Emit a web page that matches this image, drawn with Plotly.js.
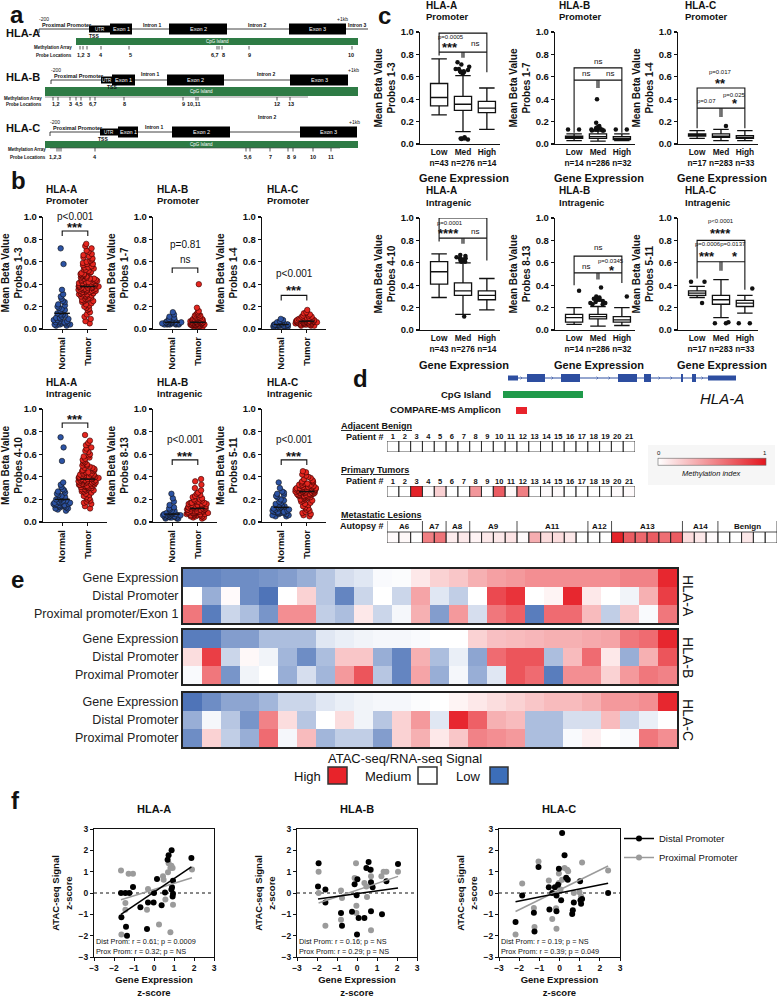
<!DOCTYPE html>
<html>
<head>
<meta charset="utf-8">
<script src="https://cdn.plot.ly/plotly-3.0.1.min.js"></script>
<style>html,body{margin:0;padding:0;background:#fff}#fig{width:778px;height:1000px}</style>
</head>
<body>
<div id="fig"></div>
<script>
// ================= DATA =================
// ---- Panel a: gene schematics (diagram units) ----
const aGeneNames=['HLA-A','HLA-B','HLA-C'];
const aRowY=[29,80,132];
const aNameY=[33,77,128];
const aPromStart=[39,51,50];
const aLineEnd=[368,348,357];
const aUTR=[[89,110],[101,112],[100,118]];
const aExons=[[[110,132],[169,227],[289,346]],[[112,135],[167,224],[290,348]],[[118,138],[172,230],[300,357]]];
const aIntronText=[['Intron 1','Intron 2','Intron 3'],['Intron 1','Intron 2'],['Intron 1','Intron 2']];
const aIntronX=[[152,257,357],[150,266],[154,267]];
const aIntronY=[[25,25,25],[74,74],[127,117]];
const aTSSX=[94,112,103];
const aPlusX=[342,353,354];
const aCpG=[[76,358],[45,358],[45,358]];
const aCpGY=[[38,45],[87,96],[141,148]];
const aProbeX=[[80,83,87,101,129,217,219,222,249,352],[53,58,70,76,81,90,95,124,183,196,198,277,290],[57,59,61,95,246,250,270,288,293,313,331]];
const aProbeText=[['1,2','3','4','5','6,7','8','9','10'],['1,2','3','4,5','6,7','8','9','10,11','12','13'],['1,2,3','4','5,6','7','8','9','10','11']];
const aProbeTextX=[[81,88,101,130,215,223,249,351],[56,70,79,93,124,183,193,277,291],[55,95,248,270,288,294,313,331]];
const aProbeTickY=[46,97,148];
const aProbeLabelY=[55,104,157];
const aProbeLine=[null,[45,308],[50,340]];
const aProbeTitleX=[73,43,47];

// ---- Panel b: mean beta values ----
const bCats=['Normal','Tumor'];
const bNormA_P=[0.72,0.58,0.35,0.31,0.29,0.27,0.25,0.24,0.22,0.21,0.20,0.19,0.18,0.17,0.16,0.15,0.14,0.13,0.13,0.12,0.11,0.10,0.10,0.09,0.09,0.08,0.08,0.07,0.07,0.06,0.06,0.06,0.05,0.05,0.05,0.04,0.04,0.04,0.03,0.03];
const bTumA_P=[0.76,0.74,0.72,0.70,0.69,0.67,0.66,0.65,0.64,0.63,0.62,0.61,0.60,0.59,0.58,0.58,0.57,0.56,0.55,0.55,0.54,0.53,0.53,0.52,0.51,0.51,0.50,0.50,0.49,0.49,0.48,0.48,0.47,0.47,0.46,0.46,0.45,0.45,0.45,0.44,0.44,0.43,0.43,0.43,0.42,0.42,0.42,0.41,0.41,0.41,0.40,0.40,0.40,0.40,0.39,0.39,0.39,0.39,0.38,0.38,0.38,0.38,0.37,0.37,0.37,0.37,0.36,0.36,0.36,0.36,0.35,0.35,0.35,0.35,0.34,0.34,0.34,0.34,0.33,0.33,0.33,0.32,0.32,0.32,0.31,0.31,0.31,0.30,0.30,0.30,0.29,0.29,0.28,0.28,0.27,0.27,0.26,0.26,0.25,0.25,0.24,0.23,0.22,0.21,0.20,0.19,0.18,0.17,0.15,0.13,0.11,0.09,0.07,0.05];
const bNormB_P=[0.15,0.13,0.11,0.10,0.09,0.09,0.08,0.08,0.08,0.07,0.07,0.07,0.07,0.06,0.06,0.06,0.06,0.06,0.06,0.06,0.05,0.05,0.05,0.05,0.05,0.05,0.05,0.05,0.05,0.04,0.04,0.04,0.04,0.04];
const bTumB_P=[0.40,0.19,0.16,0.15,0.14,0.13,0.13,0.12,0.12,0.11,0.11,0.10,0.10,0.10,0.09,0.09,0.09,0.09,0.08,0.08,0.08,0.08,0.08,0.08,0.07,0.07,0.07,0.07,0.07,0.07,0.07,0.07,0.06,0.06,0.06,0.06,0.06,0.06,0.06,0.06,0.06,0.06,0.05,0.05,0.05,0.05,0.05,0.05,0.05,0.05,0.05,0.05,0.05,0.05,0.04,0.04,0.04,0.04,0.04,0.04,0.04,0.04,0.04,0.04,0.03,0.03,0.03,0.03,0.03,0.03,0.02,0.02,0.02];
const bNormC_P=[0.09,0.08,0.07,0.07,0.06,0.06,0.05,0.05,0.05,0.05,0.04,0.04,0.04,0.04,0.04,0.04,0.04,0.03,0.03,0.03,0.03,0.03,0.03,0.03,0.02,0.02,0.02,0.02];
const bTumC_P=[0.17,0.15,0.14,0.13,0.12,0.12,0.11,0.11,0.10,0.10,0.10,0.10,0.09,0.09,0.09,0.09,0.09,0.09,0.08,0.08,0.08,0.08,0.08,0.08,0.08,0.08,0.07,0.07,0.07,0.07,0.07,0.07,0.07,0.07,0.07,0.07,0.06,0.06,0.06,0.06,0.06,0.06,0.06,0.06,0.06,0.05,0.05,0.05,0.05,0.05,0.05,0.05,0.04,0.04,0.04,0.04,0.04,0.03,0.03,0.03];
const bNormA_I=[0.75,0.66,0.54,0.35,0.33,0.31,0.29,0.28,0.27,0.26,0.25,0.24,0.23,0.22,0.21,0.21,0.20,0.20,0.19,0.19,0.18,0.18,0.17,0.17,0.17,0.16,0.16,0.16,0.15,0.15,0.15,0.14,0.14,0.14,0.13,0.13,0.12,0.12,0.11,0.10];
const bTumA_I=[0.77,0.72,0.70,0.68,0.66,0.65,0.63,0.62,0.60,0.59,0.58,0.57,0.56,0.55,0.54,0.53,0.52,0.51,0.50,0.50,0.49,0.48,0.48,0.47,0.46,0.46,0.45,0.45,0.44,0.44,0.43,0.43,0.42,0.42,0.42,0.41,0.41,0.41,0.40,0.40,0.40,0.40,0.39,0.39,0.39,0.39,0.38,0.38,0.38,0.38,0.37,0.37,0.37,0.37,0.36,0.36,0.36,0.36,0.35,0.35,0.35,0.35,0.34,0.34,0.34,0.34,0.33,0.33,0.33,0.33,0.32,0.32,0.32,0.31,0.31,0.31,0.30,0.30,0.30,0.29,0.29,0.28,0.28,0.27,0.27,0.26,0.25,0.24,0.23,0.22,0.21,0.20,0.19,0.18,0.17,0.16,0.14,0.12];
const bNormB_I=[0.25,0.21,0.18,0.15,0.13,0.12,0.11,0.10,0.10,0.09,0.09,0.08,0.08,0.08,0.07,0.07,0.07,0.07,0.06,0.06,0.06,0.06,0.06,0.05,0.05,0.05,0.05,0.05,0.04,0.04,0.04,0.04,0.03,0.03,0.03];
const bTumB_I=[0.38,0.36,0.33,0.30,0.28,0.26,0.25,0.24,0.23,0.22,0.21,0.20,0.20,0.19,0.19,0.18,0.18,0.17,0.17,0.17,0.16,0.16,0.16,0.15,0.15,0.15,0.15,0.14,0.14,0.14,0.14,0.13,0.13,0.13,0.13,0.13,0.12,0.12,0.12,0.12,0.12,0.11,0.11,0.11,0.11,0.11,0.10,0.10,0.10,0.10,0.10,0.09,0.09,0.09,0.09,0.09,0.08,0.08,0.08,0.08,0.08,0.07,0.07,0.07,0.07,0.06,0.06,0.06,0.06,0.05,0.05,0.05,0.04,0.04,0.03];
const bNormC_I=[0.35,0.30,0.27,0.26,0.25,0.24,0.23,0.22,0.20,0.19,0.18,0.17,0.16,0.15,0.14,0.14,0.13,0.13,0.12,0.12,0.11,0.11,0.10,0.10,0.09,0.09,0.09,0.08,0.08,0.08,0.07,0.07,0.06,0.06,0.05,0.05];
const bTumC_I=[0.45,0.44,0.42,0.41,0.40,0.39,0.38,0.37,0.36,0.36,0.35,0.35,0.34,0.34,0.33,0.33,0.33,0.32,0.32,0.32,0.31,0.31,0.31,0.31,0.30,0.30,0.30,0.30,0.29,0.29,0.29,0.29,0.29,0.28,0.28,0.28,0.28,0.28,0.27,0.27,0.27,0.27,0.27,0.26,0.26,0.26,0.26,0.26,0.25,0.25,0.25,0.25,0.24,0.24,0.24,0.24,0.23,0.23,0.23,0.22,0.22,0.22,0.21,0.21,0.20,0.20,0.19,0.19,0.18,0.17,0.16,0.15,0.14,0.13,0.12,0.11,0.10,0.09,0.08,0.07,0.06,0.05];
const bNormMeans=[0.14,0.06,0.04,0.20,0.07,0.13];
const bTumMeans=[0.38,0.06,0.07,0.38,0.12,0.27];
const bPvals=['p<0.001','p=0.81','p<0.001','p<0.001','p<0.001','p<0.001'];
const bStars=['***','ns','***','***','***','***'];
const bGenes=['HLA-A','HLA-B','HLA-C','HLA-A','HLA-B','HLA-C'];
const bRegions=['Promoter','Promoter','Promoter','Intragenic','Intragenic','Intragenic'];
const bProbes=['Probes 1-3','Probes 1-7','Probes 1-4','Probes 4-10','Probes 8-13','Probes 5-11'];

// ---- Panel c: box statistics [lowerfence, q1, median, q3, upperfence] for Low/Med/High ----
const cCats=['Low','Med','High'];
const cN_A=['n=43','n=276','n=14'];
const cN_B=['n=14','n=286','n=32'];
const cN_C=['n=17','n=283','n=33'];
const cStatsAP=[[0.26,0.11,0.13],[0.34,0.30,0.28],[0.415,0.355,0.32],[0.54,0.425,0.38],[0.76,0.61,0.50]];
const cStatsBP=[[0.03,0.025,0.03],[0.05,0.05,0.04],[0.06,0.065,0.05],[0.07,0.09,0.065],[0.09,0.115,0.09]];
const cStatsCP=[[0.05,0.03,0.03],[0.07,0.06,0.05],[0.08,0.07,0.06],[0.09,0.09,0.075],[0.12,0.13,0.12]];
const cStatsAI=[[0.29,0.14,0.18],[0.41,0.31,0.27],[0.52,0.35,0.31],[0.61,0.42,0.35],[0.68,0.60,0.46]];
const cStatsBI=[[0.05,0.035,0.04],[0.07,0.10,0.07],[0.11,0.12,0.09],[0.14,0.14,0.12],[0.20,0.21,0.20]];
const cStatsCI=[[0.29,0.11,0.15],[0.31,0.23,0.21],[0.33,0.27,0.24],[0.35,0.31,0.265],[0.39,0.45,0.31]];
const cOutAP=[[],[0.73,0.71,0.69,0.67,0.67,0.66,0.65,0.65,0.64,0.64,0.64,0.63,0.06,0.05,0.05,0.045,0.04,0.05],[]];
const cOutBP=[[0.13,0.13],[0.40,0.19,0.16,0.15,0.15,0.14,0.14,0.13,0.13,0.13,0.12,0.12,0.12,0.14,0.13],[0.13,0.13]];
const cOutCP=[[],[0.16],[]];
const cOutAI=[[],[0.67,0.66,0.65,0.64,0.64,0.63,0.62,0.62,0.61,0.61,0.63,0.12],[]];
const cOutBI=[[0.35],[0.38,0.30,0.29,0.28,0.28,0.27,0.27,0.26,0.25,0.24,0.24,0.23,0.23],[0.30]];
const cOutCI=[[0.43,0.43,0.24],[0.06,0.07,0.06],[0.37,0.06,0.06]];

// ---- Panel d: methylation index ----
const dExons=[[508,518],[527,545],[561,580],[618,637],[644,651],[681,683],[692,696],[708,736]];
const dExonHalfH=[2.5,4,4,4,4,4,4,2.5];
const dChevrons=[522,553,598,610,660,672,703];
const dCpG=[503,583];
const dAmplicon=[516,527];
const dPatients=['1','2','3','4','5','6','7','8','9','10','11','12','13','14','15','16','17','18','19','20','21'];
const dBenign=[0,0,0,0,0,0,0,0,0,0,0,0,0,0,0,0,0,0,0,0,0];
const dPrimary=[0,0,0.95,0.02,0.2,0,0,0.45,0,0.7,0.03,0.55,0,0.02,0.02,0,0,0,0,0.02,0.02];
const dMetGroups=['A6','A7','A8','A9','A11','A12','A13','A14','Benign'];
const dMetSizes=[3,2,2,4,6,2,6,3,5];
const dMetastatic=[0.02,0.03,0, 0.55,0.6, 0.08,0.1, 0.05,0.1,0.1,0.12, 0.02,0.35,0.15,0.15,0.1,0, 0,0, 0.95,0.7,0.65,0.7,0.62,0.7, 0.15,0.1,0.02, 0,0,0.1,0,0];

// ---- Panel e: ATAC-seq / RNA-seq signal ----
const eA_GE=[-0.75,-0.75,-0.7,-0.7,-0.65,-0.6,-0.5,-0.35,-0.2,-0.15,-0.03,-0.02,0.1,0.2,0.25,0.35,0.42,0.45,0.5,0.5,0.5,0.5,0.5,0.55,0.55,0.95];
const eA_DP=[0,-0.5,0.02,-0.7,-0.85,0,0.2,-0.35,-0.75,-0.25,0,-0.25,0.4,-0.15,-0.3,0,0.8,0.9,0,0.05,0.95,0.1,0,-0.07,0.35,0.85];
const eA_PP=[0.6,-0.8,-0.25,-0.4,-0.65,0.5,0.5,-0.3,-0.4,0.1,-0.25,-0.05,0.35,-0.6,0.45,-0.2,0.6,0.7,-0.8,0.65,0.65,0.3,-0.3,0.25,-0.03,0.6];
const eB_GE=[-0.8,-0.8,-0.6,-0.6,-0.4,-0.4,-0.4,-0.15,-0.1,-0.07,-0.05,-0.05,-0.03,0,0,0.2,0.28,0.3,0.32,0.35,0.35,0.38,0.4,0.6,0.65,0.95];
const eB_DP=[0.15,0.85,-0.25,0.03,-0.07,-0.45,-0.7,-0.4,0.25,0.25,-0.5,-0.75,0.35,-0.4,-0.1,-0.55,0.65,0.75,0.75,-0.4,0.3,0.65,0.1,-0.5,0.35,0.75];
const eB_PP=[-0.03,0.6,-0.65,-0.07,0,-0.5,-0.2,-0.45,0.45,0.75,-0.35,-0.75,0.4,-0.5,-0.05,-0.5,-0.15,0.75,0.65,-0.8,0.5,0.5,0.2,0.45,0.6,0.55];
const eC_GE=[-0.85,-0.7,-0.55,-0.55,-0.45,-0.25,-0.25,-0.15,-0.1,-0.07,-0.05,-0.05,-0.02,0,0.05,0.1,0.15,0.2,0.25,0.3,0.3,0.35,0.45,0.45,0.5,0.95];
const eC_DP=[-0.5,-0.05,-0.35,-0.65,0.55,0.15,-0.35,0,0.15,-0.07,-0.35,0.2,0.45,-0.15,0.95,0.7,0.35,0.3,-0.4,-0.4,-0.2,-0.2,0.3,-0.25,-0.1,0];
const eC_PP=[-0.7,0.2,-0.3,-0.5,0.65,-0.05,0.3,-0.45,-0.3,-0.3,-0.6,0.2,0.35,0.1,0.25,0.55,0.5,0.45,-0.4,-0.4,-0.03,0.07,0,-0.03,0.6,0.5];
const eGenes=['HLA-A','HLA-B','HLA-C'];
const eRowLabelsA=['Gene Expression','Distal Promoter','Proximal promoter/Exon 1'];
const eRowLabelsBC=['Gene Expression','Distal Promoter','Proximal Promoter'];

// ---- Panel f: z-scores ----
const fA_distX=[-1.65,-1.43,-1.23,-1.05,-1.63,-1.40,-1.35,-0.68,-0.35,-0.30,-0.02,0.0,0.15,0.38,0.55,0.68,0.73,0.88,0.95,0.90,0.87,0.95,0.93,1.87];
const fA_distY=[0,0,0,0.28,-1.14,-1.58,-2.0,-0.67,-1.69,-0.45,-0.45,0,0.66,-0.58,0.02,1.56,1.77,2.0,0.58,0.27,0.16,-0.03,-0.16,1.64];
const fA_proxX=[-1.65,-1.27,-1.05,-1.43,-1.43,-1.63,-0.35,-0.30,0.25,0.45,0.48,0.57,0.70,0.73,0.82,0.87,0.93,0.82,0.95,1.90];
const fA_proxY=[1.06,0.9,0.9,-0.47,-0.78,-1.95,-0.78,0.19,-1.48,0.78,0.62,-0.31,0.97,1.4,1.17,1.28,1.17,-1.84,-0.55,1.1];
const fB_distX=[-1.92,-1.95,-1.58,-1.58,-0.80,-0.75,-0.25,-0.12,0.0,0.08,0.37,0.47,0.58,0.67,0.70,0.78,0.70,1.25,1.47,2.05,0.02,-0.02];
const fB_distY=[1.4,0.31,0.16,-0.44,-0.94,-1.53,-0.88,0.41,-1.95,-1.17,-1.17,1.17,1.45,1.09,0.5,0.27,-0.86,-1.0,0.55,1.36,0.65,-0.1];
const fB_proxX=[-1.92,-1.92,-1.58,-0.80,-0.75,-0.80,-0.05,-0.12,-0.03,-0.03,0.47,0.50,0.70,0.70,0.70,1.33,1.22,1.47,2.05,0.37];
const fB_proxY=[1.0,0,-1.53,0.12,-0.23,-1.25,1.4,0.7,-0.6,-0.94,0.31,-0.19,1.09,0.78,-1.75,1.0,0.78,1.0,1.0,0.47];
const fC_distX=[-2.18,-1.85,-1.27,-1.24,-1.04,-0.53,-0.50,-0.36,-0.23,-0.15,-0.15,-0.07,-0.03,0.08,0.13,0.25,0.33,0.41,0.63,0.66,0.71,1.02,1.04,1.12,1.07,2.41];
const fC_distY=[-1.36,-0.12,-0.92,-1.81,1.22,0.27,-0.77,0,0.27,-0.12,-0.86,0.39,1.14,-0.34,2.81,1.77,0.72,0.62,-0.98,-0.81,-0.44,0.55,-0.34,-0.28,-0.5,0];
const fC_proxX=[-2.18,-1.85,-1.27,-1.24,-1.04,-0.53,-0.36,-0.15,-0.03,-0.03,0.13,0.25,0.38,0.43,0.71,0.99,1.07,1.12,2.41,-0.17,0.05];
const fC_proxY=[-1.95,0.44,-0.7,-1.59,1.48,0.59,-1.22,-1.67,0.91,0.47,0.62,1.17,1.09,1.02,0,0.03,-0.16,1.43,1.06,-0.72,0.16];
const fStats=[['Dist Prom: r = 0.61; p = 0.0009','Prox Prom: r = 0.32; p = NS'],['Dist Prom: r = 0.16; p = NS','Prox Prom: r = 0.29; p = NS'],['Dist Prom: r = 0.19; p = NS','Prox Prom: r = 0.39; p = 0.049']];

// ================= BUILD =================
const W=778,H=1000;
const X=p=>p/W, Y=p=>1-p/H;
const FONT='"Liberation Sans", Arial, Helvetica, sans-serif';
const INK='#111';
const traces=[],shapes=[],annotations=[];
const layout={width:W,height:H,margin:{l:0,r:0,t:0,b:0,pad:0},paper_bgcolor:'#fff',plot_bgcolor:'rgba(0,0,0,0)',
  font:{family:FONT,color:INK},showlegend:true,hovermode:false,
  xaxis:{domain:[0,1],range:[0,W],visible:false,fixedrange:true},
  yaxis:{domain:[0,1],range:[H,0],visible:false,fixedrange:true},
  legend:{x:X(619),y:Y(824),xanchor:'left',yanchor:'top',font:{size:9.5,family:FONT,color:INK},bgcolor:'rgba(0,0,0,0)',itemwidth:30,tracegroupgap:0}
};
traces.push({type:'scatter',x:[-100],y:[-100],mode:'markers',showlegend:false,hoverinfo:'skip',xaxis:'x',yaxis:'y'});

function txt(text,x,y,size,o){o=o||{};annotations.push({xref:o.xref||'x',yref:o.yref||'y',x:x,y:y,text:text,showarrow:false,
  xanchor:o.xanchor||'center',yanchor:o.yanchor||'middle',textangle:o.angle||0,borderpad:0,
  font:{family:FONT,size:size,color:o.color||INK,weight:o.bold?'bold':'normal',style:o.italic?'italic':'normal',lineposition:o.under?'under':'none'}});}
function rect(x0,x1,y0,y1,fill,o){o=o||{};shapes.push({type:'rect',xref:o.xref||'x',yref:o.yref||'y',x0:x0,x1:x1,y0:y0,y1:y1,fillcolor:fill,line:{color:o.lc||'rgba(0,0,0,0)',width:o.lw||0},layer:o.layer||'above'});}
function seg(x0,y0,x1,y1,o){o=o||{};shapes.push({type:'line',xref:o.xref||'x',yref:o.yref||'y',x0:x0,y0:y0,x1:x1,y1:y1,line:{color:o.color||INK,width:o.w||1,dash:o.dash||'solid'}});}
function pth(p,xr,yr,w,col){shapes.push({type:'path',path:p,xref:xr,yref:yr,line:{color:col||INK,width:w||1.1}});}

// panel letters
[['a',17,14],['b',18,180],['c',384,15],['d',360,378],['e',17,579],['f',15,800]].forEach(l=>txt(l[0],l[1],l[2],24,{bold:true}));

// ---------- Panel a ----------
for(let g=0;g<3;g++){
  const r=aRowY[g];
  txt(aGeneNames[g],5,aNameY[g],11,{bold:true,xanchor:'left'});
  seg(aPromStart[g],r,aLineEnd[g],r,{w:0.8});
  seg(aPromStart[g],r,aPromStart[g],r+4,{w:0.8});
  txt('-200',aPromStart[g]-1,r-10,5,{xanchor:'left'});
  txt('+1kb',aPlusX[g],r-10,5);
  txt('Proximal Promoter',aPromStart[g]+2,r-4.5,5.5,{xanchor:'left',bold:true});
  rect(aUTR[g][0],aUTR[g][1],r-3.5,r+3.5,'#000');
  txt('UTR',(aUTR[g][0]+aUTR[g][1])/2,r,4.5,{color:'#fff'});
  txt('TSS',aTSSX[g],r+6.5,5,{bold:true});
  aExons[g].forEach((e,k)=>{rect(e[0],e[1],r-5.5,r+5.5,'#000');txt('Exon '+(k+1),(e[0]+e[1])/2,r,5.5,{color:'#fff'});});
  aIntronText[g].forEach((t,k)=>txt(t,aIntronX[g][k],aIntronY[g][k],5,{bold:true}));
  rect(aCpG[g][0],aCpG[g][1],aCpGY[g][0],aCpGY[g][1],'#2e7b45');
  txt('CpG Island',(aCpG[g][0]+aCpG[g][1])/2,(aCpGY[g][0]+aCpGY[g][1])/2,4.5,{color:'#fff'});
  const ty=aProbeTickY[g];
  if(aProbeLine[g]) seg(aProbeLine[g][0],ty,aProbeLine[g][1],ty,{w:0.6,color:'#444'});
  aProbeX[g].forEach(x=>seg(x,ty,x,ty+3.5,{w:0.7}));
  aProbeText[g].forEach((t,k)=>txt(t,aProbeTextX[g][k],aProbeLabelY[g],5.5,{bold:true}));
  txt('Methylation Array',aProbeTitleX[g],ty+1,4.5,{bold:true,xanchor:'right'});
  txt('Probe Locations',aProbeTitleX[g],aProbeLabelY[g],4.5,{bold:true,xanchor:'right'});
}

// ---------- Panel b ----------
const bXDom=[[43,107],[153,217],[262,326]];
const bYDom=[[217,329],[409,522]];
const bTitleX=[45,156,266];
const bTitleY=[[189,200],[382,393]];
const bSig=[[0.875,1.0,0.935],[0.545,0.75,0.625],[0.30,0.50,0.37],[0.876,1.01,0.94],[0.55,0.73,0.61],[0.55,0.73,0.61]];
const bNorm=[bNormA_P,bNormB_P,bNormC_P,bNormA_I,bNormB_I,bNormC_I];
const bTum=[bTumA_P,bTumB_P,bTumC_P,bTumA_I,bTumB_I,bTumC_I];
for(let i=0;i<6;i++){
  const ax=2+i, col=i%3, row=Math.floor(i/3), xa='x'+ax, ya='y'+ax;
  layout['xaxis'+ax]={domain:[X(bXDom[col][0]),X(bXDom[col][1])],anchor:ya,range:[-0.75,1.75],tickmode:'array',tickvals:[0,1],ticktext:bCats,
    tickangle:-90,showline:true,linecolor:INK,linewidth:1.2,ticks:'outside',ticklen:3,tickwidth:1.2,tickcolor:INK,
    tickfont:{size:9.5,weight:'bold',family:FONT,color:INK},showgrid:false,zeroline:false,fixedrange:true};
  layout['yaxis'+ax]={domain:[Y(bYDom[row][1]),Y(bYDom[row][0])],anchor:xa,range:[0,1],tickmode:'array',tickvals:[0,0.2,0.4,0.6,0.8,1.0],
    ticktext:['0.0','0.2','0.4','0.6','0.8','1.0'],showline:true,linecolor:INK,linewidth:1.2,ticks:'outside',ticklen:3,tickwidth:1.2,tickcolor:INK,
    tickfont:{size:9.5,weight:'bold',family:FONT,color:INK},showgrid:false,zeroline:false,fixedrange:true,
    title:{text:'Mean Beta Value<br>'+bProbes[i],font:{size:10,weight:'bold',family:FONT,color:INK},standoff:3}};
  const common={type:'box',xaxis:xa,yaxis:ya,boxpoints:'all',jitter:1,pointpos:0,fillcolor:'rgba(0,0,0,0)',
    line:{color:'rgba(0,0,0,0)',width:0},showlegend:false,hoverinfo:'skip'};
  traces.push(Object.assign({},common,{y:bNorm[i],x0:0,width:0.8,marker:{color:'#2c53a4',size:5.5,line:{color:INK,width:0.6}}}));
  traces.push(Object.assign({},common,{y:bTum[i],x0:1,width:0.9,marker:{color:'#e5261f',size:5.5,line:{color:'#300',width:0.6}}}));
  seg(-0.3,bNormMeans[i],0.3,bNormMeans[i],{xref:xa,yref:ya,w:1.5});
  seg(0.7,bTumMeans[i],1.3,bTumMeans[i],{xref:xa,yref:ya,w:1.5});
  const s=bSig[i];
  pth('M0,'+(s[0]-0.045)+' L0,'+s[0]+' L1,'+s[0]+' L1,'+(s[0]-0.045),xa,ya,1.1);
  txt(bPvals[i],0.5,s[1],10,{xref:xa,yref:ya});
  if(bStars[i]==='ns') txt('ns',0.5,s[2],10,{xref:xa,yref:ya});
  else txt(bStars[i],0.5,s[2]-0.03,13,{xref:xa,yref:ya,bold:true});
  txt(bGenes[i],bTitleX[col],bTitleY[row][0],10,{bold:true,xanchor:'left'});
  txt(bRegions[i],bTitleX[col],bTitleY[row][1],9.5,{bold:true,xanchor:'left'});
}

// ---------- Panel c ----------
const cXDom=[[420,500],[555,635],[678,758]];
const cYDom=[[32,144],[218,330]];
const cTitleX=[425,558,684];
const cTitleY=[[5,16],[190,202]];
const cGeneY=[[178],[365]];
const cStats=[cStatsAP,cStatsBP,cStatsCP,cStatsAI,cStatsBI,cStatsCI];
const cOut=[cOutAP,cOutBP,cOutCP,cOutAI,cOutBI,cOutCI];
const cNs=[cN_A,cN_B,cN_C,cN_A,cN_B,cN_C];
const cPaths=[
 ['M0,0.79 L0,0.99 L2,0.99 L2,0.64','M0,0.82 L2,0.82','M0.96,0.82 L0.96,0.77','M1.04,0.82 L1.04,0.77'],
 ['M0,0.1 L0,0.68 L2,0.68 L2,0.1','M0,0.57 L2,0.57','M0.96,0.57 L0.96,0.5','M1.04,0.57 L1.04,0.5'],
 ['M0,0.14 L0,0.5 L2,0.5 L2,0.14','M0,0.32 L2,0.32','M0.96,0.32 L0.96,0.24','M1.04,0.32 L1.04,0.24'],
 ['M0,0.79 L0,1.0 L2,1.0 L2,0.62','M0,0.82 L2,0.82','M0.96,0.82 L0.96,0.77','M1.04,0.82 L1.04,0.77'],
 ['M0,0.4 L0,0.66 L2,0.66 L2,0.42','M0,0.51 L2,0.51','M0.96,0.51 L0.96,0.45','M1.04,0.51 L1.04,0.45'],
 ['M0,0.46 L0,0.8 L2,0.8 L2,0.36','M0,0.61 L2,0.61','M0.96,0.61 L0.96,0.53','M1.04,0.61 L1.04,0.53']];
const cTexts=[
 [['p=0.023',1,1.11,6],['**',1,1.03,13,1],['p=0.0005',0.5,0.955,6],['***',0.45,0.865,13,1],['ns',1.5,0.9,8]],
 [['ns',1,0.74,8],['ns',0.5,0.63,8],['ns',1.5,0.63,8]],
 [['p=0.017',1,0.645,6],['**',1,0.54,13,1],['p=0.07',0.4,0.385,6],['p=0.025',1.55,0.44,6],['*',1.6,0.36,13,1]],
 [['****',1,1.03,13,1],['p<0.0001',1.65,1.05,6,0,'left'],['p=0.0001',0.45,0.955,6],['****',0.4,0.86,13,1],['ns',1.5,0.88,8]],
 [['ns',1,0.74,8],['p=0.0345',1.55,0.615,6],['ns',0.5,0.565,8],['*',1.6,0.535,13,1]],
 [['p<0.0001',1,0.97,6],['****',1,0.865,13,1],['p=0.0006p=0.0137',1,0.765,6],['***',0.4,0.655,13,1],['*',1.6,0.655,13,1]]];
for(let i=0;i<6;i++){
  const ax=8+i, col=i%3, row=Math.floor(i/3), xa='x'+ax, ya='y'+ax;
  layout['xaxis'+ax]={domain:[X(cXDom[col][0]),X(cXDom[col][1])],anchor:ya,range:[-0.8,2.55],tickmode:'array',tickvals:[0,1,2],
    ticktext:cCats.map((c,k)=>c+'<br>'+cNs[i][k]),tickangle:0,showline:true,linecolor:INK,linewidth:1.2,ticks:'',
    tickfont:{size:8.3,weight:'bold',family:FONT,color:INK},showgrid:false,zeroline:false,fixedrange:true};
  layout['yaxis'+ax]={domain:[Y(cYDom[row][1]),Y(cYDom[row][0])],anchor:xa,range:[0,1],tickmode:'array',tickvals:[0,0.2,0.4,0.6,0.8,1.0],
    ticktext:['0.0','0.2','0.4','0.6','0.8','1.0'],showline:true,linecolor:INK,linewidth:1.2,ticks:'outside',ticklen:3,tickwidth:1.2,tickcolor:INK,
    tickfont:{size:9.5,weight:'bold',family:FONT,color:INK},showgrid:false,zeroline:false,fixedrange:true,
    title:{text:'Mean Beta Value<br>'+bProbes[i],font:{size:10,weight:'bold',family:FONT,color:INK},standoff:3}};
  const st=cStats[i];
  traces.push({type:'box',xaxis:xa,yaxis:ya,x:[0,1,2],lowerfence:st[0],q1:st[1],median:st[2],q3:st[3],upperfence:st[4],
    boxpoints:false,width:0.72,whiskerwidth:0.9,fillcolor:'#fff',line:{color:INK,width:1.3},showlegend:false,hoverinfo:'skip'});
  cOut[i].forEach((o,k)=>{ if(o.length) traces.push({type:'box',xaxis:xa,yaxis:ya,y:o,x0:k,width:0.8,boxpoints:'all',jitter:1,pointpos:0,
    fillcolor:'rgba(0,0,0,0)',line:{color:'rgba(0,0,0,0)',width:0},marker:{color:INK,size:4.5},showlegend:false,hoverinfo:'skip'}); });
  cPaths[i].forEach(p=>pth(p,xa,ya,1.1));
  cTexts[i].forEach(t=>txt(t[0],t[1],t[2],t[3],{xref:xa,yref:ya,bold:!!t[4],xanchor:t[5]||'center'}));
  txt(bGenes[i],cTitleX[col],cTitleY[row][0],10,{bold:true,xanchor:'left'});
  txt(bRegions[i],cTitleX[col],cTitleY[row][1],9.5,{bold:true,xanchor:'left'});
  txt('Gene Expression',(cXDom[col][0]+cXDom[col][1])/2+4,cGeneY[row][0],11,{bold:true});
}

// ---------- Panel d ----------
const dBlue='#2d4ea0';
seg(dExons[0][0],378,dExons[dExons.length-1][1],378,{color:dBlue,w:1});
dExons.forEach((e,k)=>rect(e[0],e[1],378-dExonHalfH[k],378+dExonHalfH[k],dBlue));
dChevrons.forEach(c=>pth('M'+(c-1.5)+',376.5 L'+c+',378 L'+(c-1.5)+',379.5','x','y',0.6,dBlue));
rect(dCpG[0],dCpG[1],391,398,'#1f9a4a');
rect(dAmplicon[0],dAmplicon[1],407,414,'#e8232b');
txt('CpG Island',492,394,9.5,{bold:true,xanchor:'right'});
txt('COMPARE-MS Amplicon',502,409,9.5,{bold:true,xanchor:'right'});
txt('HLA-A',722,398,15,{italic:true});
const redScale=[[0,'#ffffff'],[1,'#e3161e']];
const dRows=[{ax:14,vals:dBenign,top:441,bot:452,right:635,title:'Adjacent Benign',titleY:426,lab:'Patient #',labY:437},
             {ax:15,vals:dPrimary,top:486,bot:497,right:635,title:'Primary Tumors',titleY:470,lab:'Patient #',labY:481},
             {ax:16,vals:dMetastatic,top:521,bot:543,right:777,title:'Metastatic Lesions',titleY:515,lab:'Autopsy #',labY:526}];
dRows.forEach((r,ri)=>{
  const xa='x'+r.ax, ya='y'+r.ax, n=r.vals.length, met=(ri===2);
  layout['xaxis'+r.ax]={domain:[X(387),X(r.right)],anchor:ya,range:[-0.5,n-0.5],side:'top',showgrid:false,zeroline:false,fixedrange:true,
    tickmode:'array',tickvals:met?[]:dPatients.map((p,k)=>k),ticktext:met?[]:dPatients,ticks:'',showline:false,
    tickfont:{size:7.5,weight:'bold',family:FONT,color:INK},showticklabels:!met};
  layout['yaxis'+r.ax]={domain:[Y(r.bot),Y(r.top)],anchor:xa,range:met?[-0.5,1.5]:[-0.5,0.5],visible:false,fixedrange:true};
  const tr={type:'heatmap',xaxis:xa,yaxis:ya,z:[r.vals],x:r.vals.map((v,k)=>k),y:[0],zmin:0,zmax:1,colorscale:redScale,showscale:false,hoverinfo:'skip'};
  if(ri===1){tr.showscale=true;tr.colorbar={orientation:'h',x:X(712),xanchor:'center',y:Y(461.5),yanchor:'middle',len:108,lenmode:'pixels',
    thickness:7,thicknessmode:'pixels',showticklabels:false,ticks:'',outlinewidth:0.6,outlinecolor:'#666',xpad:0,ypad:0};}
  traces.push(tr);
  r.vals.forEach((v,k)=>rect(k-0.5,k+0.5,-0.5,0.5,'rgba(0,0,0,0)',{xref:xa,yref:ya,lc:'#222',lw:0.8}));
  txt(r.title,340,r.titleY,9,{bold:true,xanchor:'left',under:true});
  txt(r.lab,385,r.labY,9,{bold:true,xanchor:'right'});
  if(met){
    let c=0;
    seg(-0.5,0.5,-0.5,1.5,{xref:xa,yref:ya,w:0.8,color:'#222'});
    dMetGroups.forEach((g,k)=>{const s=dMetSizes[k];txt(g,c+s/2-0.5,1,8,{xref:xa,yref:ya,bold:true});c+=s;
      seg(c-0.5,0.5,c-0.5,1.5,{xref:xa,yref:ya,w:0.8,color:'#222'});});
  }
});
rect(648,775,445,485,'#f6f6f6',{layer:'below'});
txt('0',659,453,6);
txt('1',765,453,6);
txt('Methylation index',711,473,7.5,{italic:true});

// ---------- Panel e ----------
const eScale=[[0,'rgb(48,92,172)'],[0.5,'rgb(255,255,255)'],[1,'rgb(230,28,36)']];
const eBlocks=[[eA_GE,eA_DP,eA_PP],[eB_GE,eB_DP,eB_PP],[eC_GE,eC_DP,eC_PP]];
const eTop=[569,630,693], eBot=[623,684,747];
eBlocks.forEach((blk,b)=>{
  const ax=17+b, xa='x'+ax, ya='y'+ax;
  layout['xaxis'+ax]={domain:[X(183),X(677)],anchor:ya,range:[-0.5,blk[0].length-0.5],showgrid:false,zeroline:false,fixedrange:true,
    showticklabels:false,ticks:'',showline:true,mirror:true,linecolor:'#222',linewidth:2};
  layout['yaxis'+ax]={domain:[Y(eBot[b]),Y(eTop[b])],anchor:xa,range:[2.5,-0.5],showgrid:false,zeroline:false,fixedrange:true,
    tickmode:'array',tickvals:[0,1,2],ticktext:b===0?eRowLabelsA:eRowLabelsBC,ticks:'',showline:true,mirror:true,linecolor:'#222',linewidth:2,
    tickfont:{size:12.5,family:FONT,color:'#222'}};
  traces.push({type:'heatmap',xaxis:xa,yaxis:ya,z:blk,x:blk[0].map((v,k)=>k),y:[0,1,2],zmin:-1,zmax:1,colorscale:eScale,showscale:false,hoverinfo:'skip'});
  txt(eGenes[b],688,(eTop[b]+eBot[b])/2,14,{angle:90});
});
txt('ATAC-seq/RNA-seq Signal',405,758,13);
txt('High',307,776,13); rect(328,347,767,784,'rgb(232,35,42)',{lc:'#333',lw:1.5});
txt('Medium',388,776,13); rect(418,437,767,784,'#ffffff',{lc:'#333',lw:1.5});
txt('Low',468,776,13); rect(490,508,767,784,'rgb(60,110,185)',{lc:'#333',lw:1.5});

// ---------- Panel f ----------
const fXDom=[[94,214],[297,417],[499,620]];
const fData=[[fA_distX,fA_distY,fA_proxX,fA_proxY],[fB_distX,fB_distY,fB_proxX,fB_proxY],[fC_distX,fC_distY,fC_proxX,fC_proxY]];
const fTitleX=[154,357,559];
function fitLine(xs,ys){const n=xs.length;let sx=0,sy=0,sxx=0,sxy=0;for(let k=0;k<n;k++){sx+=xs[k];sy+=ys[k];sxx+=xs[k]*xs[k];sxy+=xs[k]*ys[k];}
  const m=(n*sxy-sx*sy)/(n*sxx-sx*sx), b=(sy-m*sx)/n; const x0=Math.min(...xs),x1=Math.max(...xs); return {x:[x0,x1],y:[m*x0+b,m*x1+b]};}
fData.forEach((d,i)=>{
  const ax=20+i, xa='x'+ax, ya='y'+ax;
  const tf={size:8.5,weight:'bold',family:FONT,color:INK};
  layout['xaxis'+ax]={domain:[X(fXDom[i][0]),X(fXDom[i][1])],anchor:ya,range:[-3,3],tickmode:'array',tickvals:[-3,-2,-1,0,1,2,3],
    showline:true,mirror:true,linecolor:INK,linewidth:1.1,ticks:'outside',ticklen:3,tickwidth:1,tickcolor:INK,tickfont:tf,
    showgrid:false,zeroline:false,fixedrange:true,title:{text:'Gene Expression<br>z-score',font:{size:9.5,weight:'bold',family:FONT,color:INK},standoff:4}};
  layout['yaxis'+ax]={domain:[Y(957),Y(829)],anchor:xa,range:[-3,3],tickmode:'array',tickvals:[-3,-2,-1,0,1,2,3],
    showline:true,mirror:true,linecolor:INK,linewidth:1.1,ticks:'outside',ticklen:3,tickwidth:1,tickcolor:INK,tickfont:tf,
    showgrid:false,zeroline:false,fixedrange:true,title:{text:'ATAC-seq Signal<br>z-score',font:{size:9.5,weight:'bold',family:FONT,color:INK},standoff:4}};
  shapes.push({type:'line',xref:xa+' domain',yref:ya,x0:0,x1:1,y0:0,y1:0,line:{color:INK,width:1,dash:'dot'},layer:'below'});
  traces.push({type:'scatter',mode:'markers',xaxis:xa,yaxis:ya,x:d[2],y:d[3],marker:{color:'#9b9b9b',size:6},showlegend:false,hoverinfo:'skip'});
  traces.push({type:'scatter',mode:'markers',xaxis:xa,yaxis:ya,x:d[0],y:d[1],marker:{color:'#000',size:6},showlegend:false,hoverinfo:'skip'});
  const fp=fitLine(d[2],d[3]), fd=fitLine(d[0],d[1]);
  traces.push({type:'scatter',mode:'lines',xaxis:xa,yaxis:ya,x:fp.x,y:fp.y,line:{color:'#9b9b9b',width:1.5},showlegend:false,hoverinfo:'skip'});
  traces.push({type:'scatter',mode:'lines',xaxis:xa,yaxis:ya,x:fd.x,y:fd.y,line:{color:'#000',width:1.5},showlegend:false,hoverinfo:'skip'});
  txt(fStats[i][0],-2.95,-2.25,7.3,{xref:xa,yref:ya,xanchor:'left'});
  txt(fStats[i][1],-2.95,-2.72,7.3,{xref:xa,yref:ya,xanchor:'left'});
  txt(aGeneNames[i],fTitleX[i],809,11,{bold:true});
});
traces.push({type:'scatter',mode:'lines+markers',name:'Distal Promoter',xaxis:'x22',yaxis:'y22',x:[-10],y:[-10],line:{color:'#000',width:1.5},marker:{color:'#000',size:6},hoverinfo:'skip'});
traces.push({type:'scatter',mode:'lines+markers',name:'Proximal Promoter',xaxis:'x22',yaxis:'y22',x:[-10],y:[-10],line:{color:'#9b9b9b',width:1.5},marker:{color:'#9b9b9b',size:6},hoverinfo:'skip'});

layout.shapes=shapes;
layout.annotations=annotations;
Plotly.newPlot('fig',traces,layout,{staticPlot:true,displayModeBar:false});
</script>
</body>
</html>
